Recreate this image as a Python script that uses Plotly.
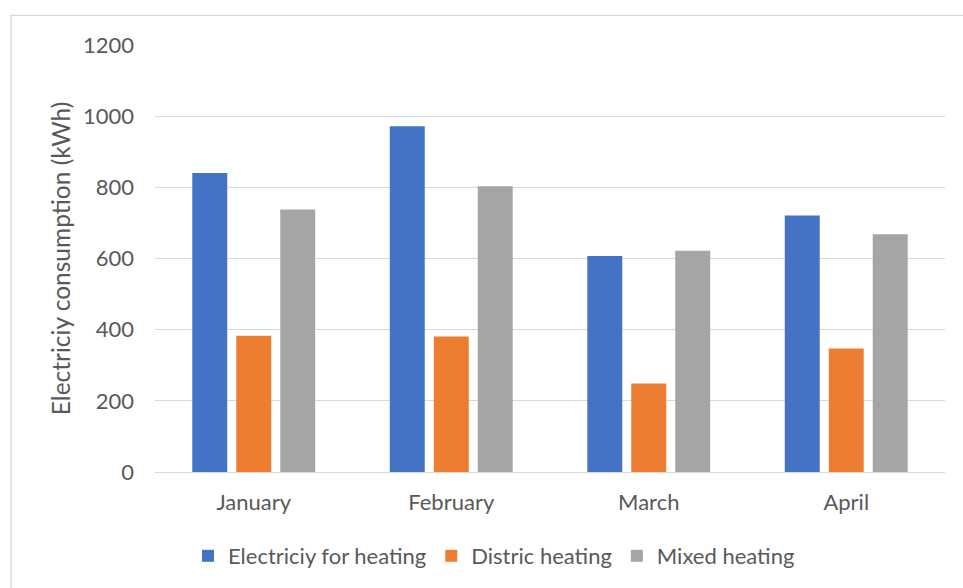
import plotly.graph_objects as go

# Monthly electricity consumption by heating type (kWh)
months = ["January", "February", "March", "April"]
electric_heating = [840, 972, 607, 721]
district_heating = [383, 381, 249, 347]
mixed_heating = [738, 803, 622, 668]

series_names = ["Electriciy for heating", "Distric heating", "Mixed heating"]
series_colors = ["#4472C4", "#ED7D31", "#A5A5A5"]

y_ticks = [0, 200, 400, 600, 800, 1000, 1200]

FONT = "Lato"
TEXT_COLOR = "#595959"
GRID_COLOR = "#D9D9D9"

W, H = 963, 588
M_L, M_R, M_T, M_B = 155, 18, 45, 116
plot_w = W - M_L - M_R
plot_h = H - M_T - M_B

fig = go.Figure()
for name, vals, color in zip(series_names,
                             [electric_heating, district_heating, mixed_heating],
                             series_colors):
    fig.add_trace(go.Bar(
        x=months, y=vals, name=name,
        marker=dict(color=color, line=dict(width=0)),
    ))

def px_x(px):
    return (px - M_L) / plot_w

def px_y(py):
    return (H - M_B - py) / plot_h

# light frame around the chart area
fig.add_shape(type="rect", xref="paper", yref="paper",
              x0=px_x(11), x1=px_x(990), y0=px_y(640), y1=px_y(15.3),
              line=dict(color=GRID_COLOR, width=1.3), fillcolor="rgba(0,0,0,0)",
              layer="below")

fig.update_layout(
    width=W, height=H,
    margin=dict(l=M_L, r=M_R, t=M_T, b=M_B, autoexpand=False),
    paper_bgcolor="white", plot_bgcolor="white",
    barmode="group", bargap=0.332, bargroupgap=0.205,
    font=dict(family=FONT, size=22, color=TEXT_COLOR),
    showlegend=True,
    legend=dict(
        orientation="h", x=px_x(494), xanchor="center",
        y=px_y(556), yanchor="middle",
        font=dict(family=FONT, size=22, color=TEXT_COLOR),
        bgcolor="rgba(0,0,0,0)", traceorder="normal",
    ),
    xaxis=dict(
        showgrid=False, showline=True, linecolor=GRID_COLOR, linewidth=1.3,
        ticks="", tickfont=dict(family=FONT, size=22, color=TEXT_COLOR),
        ticklabelstandoff=10, automargin=False,
    ),
    yaxis=dict(
        range=[0, 1200], tickvals=y_ticks, ticktext=[str(v) for v in y_ticks],
        showgrid=True, gridcolor=GRID_COLOR, gridwidth=1.3,
        zeroline=False, showline=False, ticks="",
        tickfont=dict(family=FONT, size=22, color=TEXT_COLOR),
        ticklabelstandoff=20, automargin=False,
        title=dict(text="Electriciy consumption (kWh)",
                   font=dict(family=FONT, size=24.5, color=TEXT_COLOR),
                   standoff=5),
    ),
)

fig.write_html("out.html")
